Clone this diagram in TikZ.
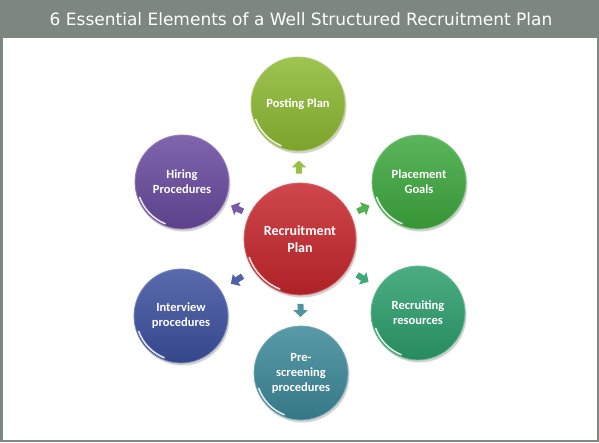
\documentclass[tikz,border=0pt]{standalone}
\usepackage{fontspec}
\setmainfont{Carlito}
\newfontfamily\titlefont{DejaVu Sans}
\usetikzlibrary{shadows,arrows.meta,calc}
\definecolor{barcol}{RGB}{126,134,130}
\definecolor{cpost}{RGB}{141,185,50}
\definecolor{cplace}{RGB}{62,168,62}
\definecolor{crecr}{RGB}{44,158,108}
\definecolor{cpre}{RGB}{60,136,152}
\definecolor{cint}{RGB}{60,80,158}
\definecolor{chire}{RGB}{104,74,158}
\definecolor{cmain}{RGB}{198,38,44}
\tikzset{
  ball/.style={circle, inner sep=0pt, align=center, text=white,
    font=\bfseries\fontsize{12.5}{15}\selectfont,
    top color=#1!85!white, middle color=#1, bottom color=#1!88!black,
    draw=#1!70!white, line width=0.8pt,
    drop shadow={opacity=0.35, shadow xshift=1.5pt, shadow yshift=-2.5pt}},
  sat/.style={ball=#1, minimum size=94pt},
  arr/.style={#1, line width=6pt, -{Triangle[width=14pt,length=7pt]}},
  gloss/.style={white, line width=1.6pt, line cap=round, opacity=0.85}
}
\newcommand\glossarc[2]{\draw[gloss] ($(#1.center)+(200:#2)$) arc[start angle=200,end angle=248,radius=#2];}
\begin{document}
\begin{tikzpicture}[x=1pt,y=1pt]
\useasboundingbox (0,0) rectangle (599,-442);
\fill[barcol] (0,0) rectangle (599,-442);
\fill[white] (2.5,-38) rectangle (596.5,-439.5);
\node[font=\titlefont\fontsize{17}{19}\selectfont, text=white] (title) at (301,-19) {6 Essential Elements of a Well Structured Recruitment Plan};
\node[ball=cmain, minimum size=112pt, font=\bfseries\fontsize{14}{17}\selectfont] (c) at (300,-239) {Recruitment\\Plan};
\node[sat=cpost] (post) at (298,-104) {Posting Plan};
\node[sat=cplace] (place) at (419,-182) {Placement\\Goals};
\node[sat=crecr] (recr) at (418,-313) {Recruiting\\resources};
\node[sat=cpre] (pre) at (301,-373) {Pre-\\screening\\procedures};
\node[sat=cint] (int) at (181,-316) {Interview\\procedures};
\node[sat=chire] (hire) at (182,-182) {Hiring\\Procedures};
\glossarc{c}{54}
\glossarc{post}{45}
\glossarc{place}{45}
\glossarc{recr}{45}
\glossarc{pre}{45}
\glossarc{int}{45}
\glossarc{hire}{45}
\draw[arr=cpost!90!white, shorten <=9pt, shorten >=9pt] (c) -- (post);
\draw[arr=cplace!90!white, shorten <=7.5pt, shorten >=7.5pt] (c) -- (place);
\draw[arr=crecr!90!white, shorten <=11pt, shorten >=11pt] (c) -- (recr);
\draw[arr=cpre!90!white, shorten <=8.5pt, shorten >=8.5pt] (c) -- (pre);
\draw[arr=cint!90!white, shorten <=12pt, shorten >=12pt] (c) -- (int);
\draw[arr=chire!90!white, shorten <=7pt, shorten >=7pt] (c) -- (hire);
\end{tikzpicture}
\end{document}
